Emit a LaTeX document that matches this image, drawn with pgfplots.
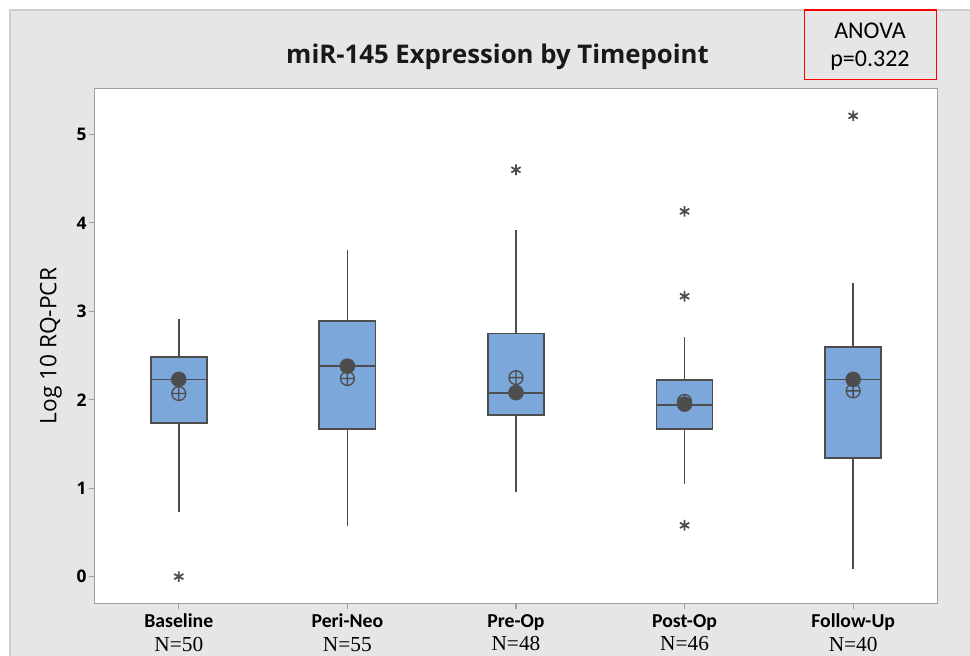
\documentclass[border=0pt]{standalone}
\usepackage{pgfplots}
\pgfplotsset{compat=1.18}
\usepgfplotslibrary{statistics}
\usetikzlibrary{plotmarks}
\usepackage{fontspec}
\setmainfont{Carlito}
\newfontfamily\osans{Open Sans}
\newfontfamily\tserif{Liberation Serif}
\definecolor{panel}{RGB}{230,230,230}
\definecolor{panelline}{RGB}{205,205,205}
\definecolor{boxfill}{RGB}{123,167,218}
\definecolor{edge}{RGB}{77,77,77}
\definecolor{frame}{RGB}{160,160,160}
\begin{document}
\begin{tikzpicture}
\begin{scope}[x=0.75pt,y=-0.75pt]
\fill[white] (0,0) rectangle (970,656);
\fill[panel] (10,10) rectangle (970,656);
\draw[panelline, line width=1.2pt] (10,656) -- (10,10) -- (970,10);
\node[anchor=base, font=\osans\bfseries\fontsize{19.3}{22}\selectfont, text=black!90] at (497.5,64) {miR-145 Expression by Timepoint};
\draw[red, line width=0.8pt] (804.5,10) rectangle (936.3,79.3);
\node[anchor=base, font=\fontsize{18}{20}\selectfont] at (870,38.3) {ANOVA};
\node[anchor=base, font=\fontsize{18}{20}\selectfont] at (870,67) {p=0.322};
\node[rotate=90, font=\osans\fontsize{17}{20}\selectfont] at (51,346) {Log 10 RQ-PCR};
\end{scope}
\begin{axis}[
  at={(70.875pt,-452.55pt)}, anchor=south west,
  scale only axis, width=632.2pt, height=386.1pt,
  xmin=0.5, xmax=5.5, ymin=-0.303, ymax=5.518,
  axis background/.style={fill=white},
  axis line style={frame, line width=1.3pt},
  xtick={1,2,3,4,5},
  xticklabels={{\bfseries Baseline\\\tserif\fontsize{16}{17.5}\selectfont N=50},{\bfseries Peri-Neo\\\tserif\fontsize{16}{17.5}\selectfont N=55},{\bfseries Pre-Op\\\tserif\fontsize{16}{17.5}\selectfont N=48},{\bfseries Post-Op\\\tserif\fontsize{16}{17.5}\selectfont N=46},{\bfseries Follow-Up\\\tserif\fontsize{16}{17.5}\selectfont N=40}},
  xticklabel style={align=center, font=\fontsize{14.8}{17.5}\selectfont},
  ytick={0,1,2,3,4,5},
  yticklabel style={font=\osans\bfseries\fontsize{13}{13}\selectfont, xshift=2pt},
  /pgf/number format/assume math mode=true,
  xtick pos=left, ytick pos=left,
  tick align=outside, major tick length=4.5pt,
  tick style={frame, line width=0.8pt},
  boxplot/draw direction=y,
  boxplot/box extend=0.333,
  boxplot/whisker extend=0,
  boxplot/every box/.style={draw=edge, fill=boxfill, line width=1.3pt},
  boxplot/every whisker/.style={draw=edge, line width=1.2pt},
  boxplot/every median/.style={draw=edge, line width=1.3pt},
]
\addplot[boxplot prepared={draw position=1, lower whisker=0.73, lower quartile=1.74, median=2.23, upper quartile=2.48, upper whisker=2.91},
  draw=edge, mark=asterisk, mark size=4pt, mark options={draw=edge, line width=1.3pt}]
  table[row sep=\\, y index=0]{y\\ 0.0\\};
\addplot[boxplot prepared={draw position=2, lower whisker=0.57, lower quartile=1.67, median=2.38, upper quartile=2.89, upper whisker=3.69},
  draw=edge, mark=asterisk, mark size=4pt, mark options={draw=edge, line width=1.3pt}]
  coordinates {};
\addplot[boxplot prepared={draw position=3, lower whisker=0.96, lower quartile=1.83, median=2.08, upper quartile=2.75, upper whisker=3.92},
  draw=edge, mark=asterisk, mark size=4pt, mark options={draw=edge, line width=1.3pt}]
  table[row sep=\\, y index=0]{y\\ 4.60\\};
\addplot[boxplot prepared={draw position=4, lower whisker=1.05, lower quartile=1.67, median=1.94, upper quartile=2.22, upper whisker=2.71},
  draw=edge, mark=asterisk, mark size=4pt, mark options={draw=edge, line width=1.3pt}]
  table[row sep=\\, y index=0]{y\\ 4.13\\ 3.17\\ 0.58\\};
\addplot[boxplot prepared={draw position=5, lower whisker=0.09, lower quartile=1.34, median=2.23, upper quartile=2.60, upper whisker=3.32},
  draw=edge, mark=asterisk, mark size=4pt, mark options={draw=edge, line width=1.3pt}]
  table[row sep=\\, y index=0]{y\\ 5.21\\};
% means
\addplot[only marks, mark=oplus, mark size=5.2pt, mark options={draw=edge, fill=none, line width=1pt}]
  coordinates {(1,2.07) (2,2.24) (3,2.25) (4,1.98) (5,2.10)};
% medians
\addplot[only marks, mark=*, mark size=5.6pt, mark options={draw=edge, fill=edge}]
  coordinates {(1,2.23) (2,2.38) (3,2.08) (4,1.95) (5,2.23)};
\end{axis}
\pgfresetboundingbox
\path[x=0.75pt,y=-0.75pt] (0,0) rectangle (970,656);
\end{tikzpicture}
\end{document}
